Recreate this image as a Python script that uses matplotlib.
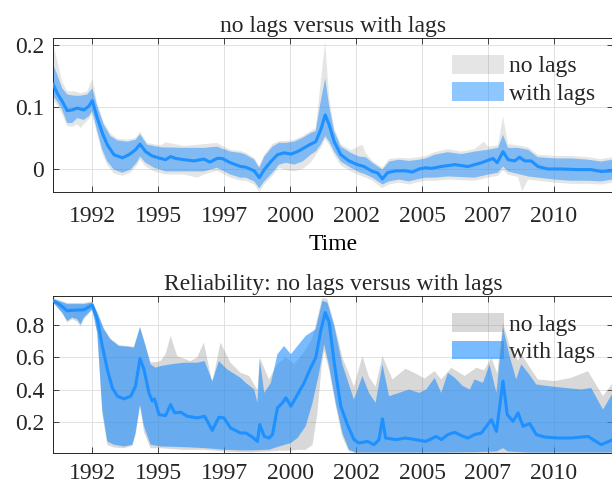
import matplotlib
matplotlib.use("Agg")
import matplotlib.pyplot as plt
import numpy as np

# x tick positions (decimal years) and their labels
x_ticks = [1992.5, 1995.0, 1997.5, 2000.0, 2002.5, 2005.0, 2007.5, 2010.0]
x_labels = ["1992", "1995", "1997", "2000", "2002", "2005", "2007", "2010"]

# ---- panel 1: no lags versus with lags ----
top_med = [(1991.02, 0.136), (1991.17, 0.122), (1991.36, 0.109), (1991.55, 0.094), (1991.74, 0.095),
           (1991.93, 0.098), (1992.18, 0.095), (1992.37, 0.101), (1992.50, 0.110), (1992.69, 0.082),
           (1992.88, 0.058), (1993.07, 0.039), (1993.32, 0.023), (1993.64, 0.018), (1993.89, 0.023),
           (1994.14, 0.031), (1994.31, 0.040), (1994.52, 0.028), (1994.77, 0.021), (1995.09, 0.017),
           (1995.28, 0.015), (1995.47, 0.020), (1995.66, 0.017), (1995.97, 0.015), (1996.35, 0.013),
           (1996.73, 0.016), (1996.96, 0.011), (1997.23, 0.017), (1997.42, 0.017), (1997.74, 0.010),
           (1998.12, 0.004), (1998.32, 0.003), (1998.64, -0.003), (1998.83, -0.014), (1999.02, -0.001),
           (1999.27, 0.012), (1999.52, 0.023), (1999.77, 0.026), (2000.03, 0.024), (2000.28, 0.028),
           (2000.53, 0.034), (2000.78, 0.040), (2000.97, 0.044), (2001.16, 0.063), (2001.33, 0.087),
           (2001.48, 0.071), (2001.67, 0.044), (2001.92, 0.023), (2002.23, 0.013), (2002.55, 0.007),
           (2002.80, 0.004), (2003.12, -0.004), (2003.31, -0.006), (2003.50, -0.016), (2003.69, -0.006),
           (2004.00, -0.003), (2004.38, -0.003), (2004.63, -0.005), (2004.89, 0.000), (2005.14, 0.002),
           (2005.35, 0.001), (2005.73, 0.004), (2006.24, 0.007), (2006.74, 0.004), (2007.25, 0.010),
           (2007.69, 0.017), (2007.85, 0.010), (2008.07, 0.028), (2008.26, 0.015), (2008.51, 0.013),
           (2008.70, 0.019), (2008.89, 0.013), (2009.14, 0.013), (2009.39, 0.004), (2009.77, 0.000),
           (2010.28, 0.000), (2010.91, -0.001), (2011.41, -0.001), (2011.79, -0.004), (2012.23, -0.003)]

top_lag_hi = [(1991.02, 0.168), (1991.17, 0.152), (1991.36, 0.130), (1991.55, 0.120), (1991.81, 0.118),
              (1992.06, 0.118), (1992.31, 0.120), (1992.50, 0.130), (1992.69, 0.101), (1992.94, 0.071),
              (1993.19, 0.053), (1993.45, 0.046), (1993.83, 0.044), (1994.14, 0.047), (1994.31, 0.056),
              (1994.58, 0.039), (1995.09, 0.035), (1995.97, 0.034), (1996.73, 0.034), (1997.23, 0.036),
              (1997.74, 0.028), (1998.12, 0.026), (1998.32, 0.023), (1998.64, 0.015), (1998.83, 0.002),
              (1999.02, 0.020), (1999.33, 0.036), (1999.58, 0.042), (1999.84, 0.042), (2000.15, 0.044),
              (2000.47, 0.050), (2000.78, 0.058), (2000.97, 0.061), (2001.16, 0.109), (2001.33, 0.146),
              (2001.48, 0.101), (2001.67, 0.061), (2001.92, 0.036), (2002.30, 0.026), (2002.61, 0.020),
              (2002.87, 0.019), (2003.12, 0.010), (2003.50, -0.001), (2003.75, 0.012), (2004.13, 0.015),
              (2004.51, 0.013), (2004.89, 0.015), (2005.14, 0.017), (2005.48, 0.023), (2005.98, 0.027),
              (2006.49, 0.024), (2006.99, 0.028), (2007.50, 0.031), (2007.88, 0.034), (2008.07, 0.055),
              (2008.26, 0.034), (2008.64, 0.034), (2009.02, 0.031), (2009.39, 0.019), (2010.03, 0.017),
              (2010.66, 0.017), (2011.29, 0.015), (2011.79, 0.012), (2012.23, 0.015)]

top_lag_lo = [(1991.02, 0.117), (1991.17, 0.109), (1991.36, 0.095), (1991.55, 0.074), (1991.74, 0.074),
              (1991.93, 0.082), (1992.18, 0.079), (1992.37, 0.085), (1992.50, 0.093), (1992.69, 0.061),
              (1992.88, 0.031), (1993.07, 0.012), (1993.32, -0.001), (1993.64, -0.006), (1993.95, -0.001),
              (1994.18, 0.010), (1994.31, 0.020), (1994.52, 0.010), (1994.84, 0.002), (1995.28, -0.004),
              (1995.97, -0.004), (1996.73, -0.004), (1997.23, 0.002), (1997.74, -0.009), (1998.12, -0.014),
              (1998.32, -0.014), (1998.64, -0.020), (1998.83, -0.031), (1999.02, -0.020), (1999.33, -0.006),
              (1999.58, 0.007), (1999.84, 0.010), (2000.15, 0.007), (2000.47, 0.012), (2000.78, 0.023),
              (2000.97, 0.028), (2001.16, 0.039), (2001.33, 0.053), (2001.48, 0.044), (2001.67, 0.028),
              (2001.92, 0.012), (2002.30, 0.002), (2002.61, -0.005), (2002.87, -0.009), (2003.12, -0.014),
              (2003.50, -0.025), (2003.75, -0.020), (2004.13, -0.017), (2004.51, -0.020), (2004.89, -0.016),
              (2005.14, -0.014), (2005.48, -0.014), (2005.98, -0.012), (2006.49, -0.013), (2006.99, -0.014),
              (2007.50, -0.009), (2007.88, -0.006), (2008.07, 0.004), (2008.26, -0.004), (2008.64, -0.008),
              (2009.02, -0.012), (2009.39, -0.014), (2010.03, -0.017), (2010.66, -0.019), (2011.29, -0.019),
              (2011.79, -0.020), (2012.23, -0.017)]

top_nolag_hi = [(1991.02, 0.200), (1991.17, 0.175), (1991.36, 0.140), (1991.55, 0.125), (1991.81, 0.125),
                (1992.06, 0.122), (1992.31, 0.125), (1992.50, 0.145), (1992.69, 0.105), (1992.94, 0.075),
                (1993.19, 0.057), (1993.45, 0.049), (1993.83, 0.047), (1994.14, 0.050), (1994.31, 0.060),
                (1994.58, 0.042), (1995.09, 0.038), (1995.28, 0.043), (1995.97, 0.037), (1996.73, 0.040),
                (1997.23, 0.042), (1997.74, 0.031), (1998.12, 0.029), (1998.32, 0.026), (1998.64, 0.018),
                (1998.83, 0.005), (1999.02, 0.023), (1999.33, 0.040), (1999.58, 0.045), (1999.84, 0.045),
                (2000.15, 0.047), (2000.47, 0.053), (2000.78, 0.061), (2000.97, 0.066), (2001.16, 0.140),
                (2001.33, 0.205), (2001.48, 0.115), (2001.67, 0.066), (2001.92, 0.040), (2002.30, 0.030),
                (2002.61, 0.037), (2002.74, 0.039), (2002.87, 0.025), (2003.12, 0.013), (2003.50, 0.002),
                (2003.75, 0.016), (2004.13, 0.018), (2004.51, 0.017), (2004.89, 0.019), (2005.14, 0.021),
                (2005.48, 0.027), (2005.98, 0.032), (2006.49, 0.028), (2006.99, 0.032), (2007.35, 0.044),
                (2007.50, 0.036), (2007.88, 0.038), (2008.07, 0.085), (2008.26, 0.040), (2008.64, 0.038),
                (2009.02, 0.035), (2009.39, 0.023), (2010.03, 0.021), (2010.66, 0.021), (2011.29, 0.019),
                (2011.79, 0.016), (2012.23, 0.019)]

top_nolag_lo = [(1991.02, 0.110), (1991.17, 0.103), (1991.36, 0.088), (1991.55, 0.069), (1991.74, 0.068),
                (1991.93, 0.072), (1992.06, 0.066), (1992.18, 0.072), (1992.37, 0.080), (1992.50, 0.088),
                (1992.69, 0.055), (1992.88, 0.025), (1993.07, 0.006), (1993.32, -0.007), (1993.64, -0.011),
                (1993.95, -0.006), (1994.18, 0.005), (1994.31, 0.015), (1994.52, 0.004), (1994.84, -0.004),
                (1995.28, -0.009), (1995.97, -0.009), (1996.48, -0.014), (1996.73, -0.009), (1997.23, -0.003),
                (1997.74, -0.014), (1998.12, -0.019), (1998.32, -0.019), (1998.64, -0.025), (1998.83, -0.037),
                (1999.02, -0.025), (1999.33, -0.011), (1999.58, 0.002), (1999.84, -0.002), (2000.15, -0.004),
                (2000.47, 0.000), (2000.78, 0.010), (2000.97, 0.022), (2001.16, 0.034), (2001.33, 0.048),
                (2001.48, 0.039), (2001.67, 0.022), (2001.92, 0.006), (2002.30, -0.004), (2002.61, -0.010),
                (2002.87, -0.014), (2003.12, -0.019), (2003.50, -0.031), (2003.75, -0.025), (2004.13, -0.022),
                (2004.51, -0.025), (2004.89, -0.021), (2005.14, -0.019), (2005.48, -0.019), (2005.98, -0.017),
                (2006.49, -0.018), (2006.99, -0.019), (2007.50, -0.014), (2007.88, -0.011), (2008.07, -0.002),
                (2008.26, -0.009), (2008.64, -0.013), (2008.80, -0.036), (2009.02, -0.017), (2009.39, -0.019),
                (2010.03, -0.022), (2010.66, -0.024), (2011.29, -0.024), (2011.79, -0.025), (2012.23, -0.022)]

# ---- panel 2: reliability ----
rel_med = [(1991.02, 0.948), (1991.24, 0.928), (1991.55, 0.887), (1991.87, 0.891), (1992.18, 0.893),
           (1992.50, 0.922), (1992.69, 0.835), (1992.88, 0.670), (1993.07, 0.526), (1993.26, 0.412),
           (1993.45, 0.361), (1993.70, 0.344), (1993.96, 0.361), (1994.14, 0.423), (1994.31, 0.592),
           (1994.46, 0.526), (1994.65, 0.381), (1994.77, 0.330), (1994.86, 0.344), (1995.03, 0.247),
           (1995.28, 0.241), (1995.47, 0.309), (1995.62, 0.258), (1995.85, 0.262), (1996.10, 0.237),
           (1996.48, 0.227), (1996.76, 0.237), (1997.05, 0.150), (1997.30, 0.231), (1997.49, 0.227),
           (1997.74, 0.165), (1998.12, 0.134), (1998.32, 0.134), (1998.57, 0.109), (1998.76, 0.082),
           (1998.85, 0.186), (1999.02, 0.113), (1999.20, 0.103), (1999.33, 0.124), (1999.52, 0.289),
           (1999.71, 0.320), (1999.84, 0.351), (2000.03, 0.299), (2000.28, 0.371), (2000.53, 0.443),
           (2000.78, 0.536), (2000.97, 0.598), (2001.16, 0.763), (2001.33, 0.876), (2001.48, 0.814),
           (2001.67, 0.567), (2001.92, 0.299), (2002.17, 0.186), (2002.42, 0.093), (2002.61, 0.072),
           (2002.93, 0.082), (2003.18, 0.062), (2003.37, 0.093), (2003.50, 0.221), (2003.62, 0.103),
           (2004.00, 0.093), (2004.38, 0.103), (2004.76, 0.093), (2005.14, 0.082), (2005.54, 0.113),
           (2005.73, 0.093), (2005.98, 0.124), (2006.24, 0.138), (2006.49, 0.118), (2006.74, 0.103),
           (2006.99, 0.124), (2007.25, 0.134), (2007.63, 0.216), (2007.82, 0.144), (2008.07, 0.454),
           (2008.23, 0.247), (2008.45, 0.206), (2008.64, 0.258), (2008.83, 0.175), (2009.08, 0.192),
           (2009.33, 0.124), (2009.65, 0.109), (2010.15, 0.103), (2010.66, 0.103), (2011.29, 0.113),
           (2011.79, 0.062), (2012.23, 0.093)]

rel_lag_hi = [(1991.02, 0.959), (1991.55, 0.928), (1992.18, 0.928), (1992.50, 0.938), (1992.69, 0.876),
              (1992.94, 0.773), (1993.19, 0.711), (1993.51, 0.670), (1993.83, 0.666), (1994.08, 0.660),
              (1994.31, 0.784), (1994.52, 0.670), (1994.71, 0.557), (1994.90, 0.536), (1995.09, 0.546),
              (1995.47, 0.557), (1995.97, 0.567), (1996.48, 0.567), (1996.76, 0.577), (1997.05, 0.454),
              (1997.30, 0.577), (1997.61, 0.526), (1998.12, 0.474), (1998.32, 0.443), (1998.64, 0.402),
              (1998.76, 0.320), (1998.85, 0.588), (1999.02, 0.381), (1999.27, 0.443), (1999.52, 0.619),
              (1999.77, 0.670), (2000.03, 0.619), (2000.28, 0.670), (2000.59, 0.732), (2000.97, 0.773),
              (2001.22, 0.948), (2001.41, 0.938), (2001.67, 0.794), (2001.98, 0.557), (2002.23, 0.433),
              (2002.42, 0.340), (2002.74, 0.485), (2002.99, 0.381), (2003.24, 0.320), (2003.50, 0.557),
              (2003.75, 0.361), (2004.13, 0.381), (2004.51, 0.402), (2004.89, 0.381), (2005.16, 0.402),
              (2005.48, 0.474), (2005.73, 0.381), (2005.98, 0.505), (2006.24, 0.474), (2006.55, 0.423),
              (2006.81, 0.402), (2006.99, 0.464), (2007.31, 0.443), (2007.56, 0.557), (2007.82, 0.381),
              (2008.07, 0.784), (2008.32, 0.608), (2008.57, 0.464), (2008.76, 0.557), (2009.02, 0.505),
              (2009.33, 0.433), (2009.77, 0.423), (2010.40, 0.412), (2011.04, 0.402), (2011.41, 0.412),
              (2011.86, 0.278), (2012.23, 0.381)]

rel_lag_lo = [(1991.02, 0.938), (1991.36, 0.876), (1991.55, 0.825), (1991.74, 0.845), (1991.93, 0.835),
              (1992.06, 0.804), (1992.18, 0.845), (1992.50, 0.897), (1992.69, 0.753), (1992.88, 0.278),
              (1993.07, 0.082), (1993.32, 0.062), (1993.70, 0.051), (1994.02, 0.062), (1994.14, 0.134),
              (1994.31, 0.309), (1994.46, 0.175), (1994.71, 0.062), (1995.09, 0.051), (1995.97, 0.047),
              (1996.73, 0.041), (1997.49, 0.031), (1998.12, 0.027), (1998.57, 0.027), (1999.20, 0.031),
              (1999.58, 0.051), (2000.03, 0.072), (2000.28, 0.103), (2000.59, 0.175), (2000.85, 0.320),
              (2001.10, 0.505), (2001.29, 0.680), (2001.48, 0.546), (2001.73, 0.320), (2001.98, 0.134),
              (2002.23, 0.031), (2002.49, 0.014), (2004.00, 0.014), (2006.00, 0.014), (2007.00, 0.016),
              (2007.82, 0.020), (2008.07, 0.040), (2008.26, 0.020), (2009.00, 0.014), (2012.23, 0.014)]

rel_nolag_hi = [(1991.02, 0.965), (1991.55, 0.935), (1992.18, 0.935), (1992.50, 0.945), (1992.69, 0.880),
                (1992.94, 0.780), (1993.19, 0.715), (1993.51, 0.675), (1993.83, 0.670), (1994.08, 0.665),
                (1994.31, 0.790), (1994.52, 0.675), (1994.71, 0.570), (1994.90, 0.570), (1995.09, 0.577),
                (1995.28, 0.620), (1995.47, 0.732), (1995.72, 0.608), (1996.22, 0.577), (1996.48, 0.600),
                (1996.73, 0.691), (1997.05, 0.443), (1997.36, 0.691), (1997.74, 0.567), (1998.12, 0.505),
                (1998.45, 0.485), (1998.76, 0.400), (1998.85, 0.598), (1999.20, 0.464), (1999.52, 0.560),
                (1999.84, 0.600), (2000.15, 0.560), (2000.47, 0.620), (2000.85, 0.720), (2001.22, 0.965),
                (2001.41, 0.960), (2001.67, 0.810), (2001.98, 0.600), (2002.23, 0.500), (2002.42, 0.420),
                (2002.74, 0.608), (2002.99, 0.480), (2003.24, 0.420), (2003.50, 0.608), (2003.88, 0.464),
                (2004.38, 0.530), (2004.76, 0.500), (2005.10, 0.470), (2005.48, 0.515), (2005.73, 0.464),
                (2006.11, 0.536), (2006.62, 0.485), (2007.06, 0.536), (2007.35, 0.520), (2007.63, 0.598),
                (2007.85, 0.500), (2008.07, 0.815), (2008.32, 0.670), (2008.64, 0.580), (2008.76, 0.619),
                (2009.39, 0.464), (2010.03, 0.454), (2010.66, 0.474), (2011.29, 0.515), (2011.86, 0.361),
                (2012.23, 0.443)]

rel_nolag_lo = [(1991.02, 0.935), (1991.36, 0.870), (1991.55, 0.815), (1991.74, 0.835), (1991.93, 0.820),
                (1992.06, 0.790), (1992.18, 0.835), (1992.50, 0.890), (1992.69, 0.745), (1992.88, 0.250),
                (1993.07, 0.060), (1993.32, 0.045), (1993.70, 0.040), (1994.02, 0.055), (1994.14, 0.120),
                (1994.31, 0.295), (1994.46, 0.140), (1994.71, 0.040), (1995.09, 0.040), (1995.97, 0.030),
                (1996.73, 0.030), (1997.49, 0.020), (1998.12, 0.015), (1998.57, 0.015), (1999.20, 0.020),
                (1999.58, 0.025), (2000.03, 0.025), (2000.28, 0.030), (2000.59, 0.030), (2000.85, 0.060),
                (2001.03, 0.250), (2001.20, 0.550), (2001.29, 0.640), (2001.48, 0.520), (2001.73, 0.300),
                (2001.98, 0.110), (2002.23, 0.020), (2002.49, 0.010), (2012.23, 0.010)]

plt.rcParams['font.family'] = ['Liberation Serif', 'DejaVu Serif']
plt.rcParams['text.color'] = '#262626'

blaa = '#1e90ff'
graa = '#808080'
fs = 17


def band(ax, hi, lo, color, alpha, label):
    # fyller omraadet mellom ovre og nedre kant som en polygon
    th, vh = np.array(hi).T
    tl, vl = np.array(lo).T
    x = np.concatenate([th, tl[::-1]])
    y = np.concatenate([vh, vl[::-1]])
    return ax.fill(x, y, color=color, alpha=alpha, lw=0, label=label, zorder=2)


def pynt(ax, ylim, yticks, ylabels, title, xpad):
    ax.set_xlim(1991.0, 2012.25)
    ax.set_ylim(*ylim)
    ax.set_xticks(x_ticks, x_labels)
    ax.set_yticks(yticks, ylabels)
    ax.grid(True, color='#dcdcdc', lw=0.6)
    ax.set_axisbelow(True)
    ax.tick_params(direction='in', top=True, right=True, length=4, width=0.6,
                   colors='#262626', labelsize=fs)
    ax.tick_params(axis='x', pad=xpad)
    ax.tick_params(axis='y', pad=6)
    for s in ax.spines.values():
        s.set_color('#262626')
        s.set_linewidth(0.7)
    ax.set_title(title, fontsize=fs, pad=4)
    leg = ax.legend(loc='upper left', bbox_to_anchor=(0.712, 0.89), frameon=False,
                    fontsize=fs, handlelength=2.2, handleheight=0.85, handletextpad=0.2,
                    labelspacing=0.2, borderpad=0, borderaxespad=0)
    leg.set_zorder(1)


fig = plt.figure(figsize=(6.12, 4.86), dpi=100)
ax1 = fig.add_axes([0.0861, 0.605, 0.916, 0.317])
ax2 = fig.add_axes([0.0861, 0.068, 0.916, 0.323])

band(ax1, top_nolag_hi, top_nolag_lo, graa, 0.2, 'no lags')
band(ax1, top_lag_hi, top_lag_lo, blaa, 0.5, 'with lags')
t, v = np.array(top_med).T
ax1.plot(t, v, color=blaa, lw=2.2, zorder=3)
pynt(ax1, (-0.037, 0.211), [0, 0.1, 0.2], ['0', '0.1', '0.2'], 'no lags versus with lags', 10)
ax1.set_xlabel('Time', fontsize=fs, labelpad=5)

band(ax2, rel_nolag_hi, rel_nolag_lo, graa, 0.3, 'no lags')
band(ax2, rel_lag_hi, rel_lag_lo, blaa, 0.6, 'with lags')
t, v = np.array(rel_med).T
ax2.plot(t, v, color=blaa, lw=2.2, zorder=3)
pynt(ax2, (0.011, 0.978), [0.2, 0.4, 0.6, 0.8], ['0.2', '0.4', '0.6', '0.8'],
     'Reliability: no lags versus with lags', 7)

fig.savefig('out.png', dpi=100)
